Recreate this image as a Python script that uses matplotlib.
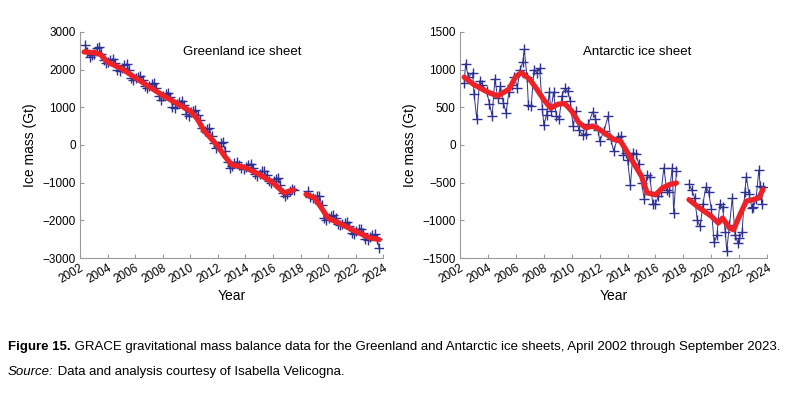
import numpy as np
import matplotlib
matplotlib.use("Agg")
import matplotlib.pyplot as plt

nan = np.nan

# sampling months used for the Greenland record (every second month)
gis_months = [1, 3, 5, 7, 9, 11]
gis_years = list(range(2002, 2024))
gis_rows = [
    [nan, nan, 2650, 2480, 2330, 2380],
    [2420, 2560, 2600, 2420, 2250, 2180],
    [2190, 2250, 2290, 2180, 2000, 1960],
    [2040, 2120, 2150, 2000, 1780, 1720],
    [1790, 1810, 1830, 1720, 1560, 1500],
    [1560, 1620, 1650, 1500, 1300, 1200],
    [1300, 1360, 1390, 1260, 1020, 970],
    [1080, 1150, 1180, 1050, 820, 780],
    [870, 910, 930, 800, 650, 450],
    [380, 420, 440, 250, 60, -80],
    [-30, 40, 80, -150, -450, -620],
    [-560, -480, -440, -520, -620, -640],
    [-580, -530, -500, -600, -780, -830],
    [-760, -700, -700, -800, -960, -1020],
    [-960, -900, -870, -1050, -1280, -1340],
    [-1300, -1220, -1160, -1200, nan, nan],
    [nan, nan, nan, -1230, -1380, -1400],
    [-1420, -1360, -1340, -1600, -1950, -1990],
    [-1930, -1890, -1870, -1950, -2100, -2130],
    [-2100, -2070, -2050, -2150, -2330, -2360],
    [-2280, -2230, -2220, -2330, -2500, -2530],
    [-2450, -2390, -2370, -2500, -2730, nan],
]

gis_trend_t = [2002.3, 2003.0, 2003.5, 2004.0, 2005.0, 2006.0, 2007.0, 2008.0,
               2009.0, 2010.0, 2010.5, 2011.0, 2012.0, 2012.5, 2013.0, 2014.0,
               2015.0, 2016.0, 2016.8, 2017.5, nan, 2018.4, 2019.0, 2019.5,
               2020.0, 2021.0, 2022.0, 2023.0, 2023.7]
gis_trend = [2470, 2450, 2400, 2200, 2030, 1790, 1550, 1320,
             1110, 900, 700, 380, -30, -300, -520, -600,
             -780, -1000, -1270, -1190, nan, -1310, -1400, -1660,
             -1940, -2110, -2290, -2460, -2510]

ais_t = [2002.3, 2002.4, 2002.6, 2002.9, 2003.0, 2003.2, 2003.4, 2003.6, 2003.9,
         2004.1, 2004.3, 2004.5, 2004.7, 2004.9, 2005.1, 2005.3, 2005.5, 2005.7,
         2005.9, 2006.1, 2006.3, 2006.5, 2006.6, 2006.8, 2006.9, 2007.1, 2007.3,
         2007.5, 2007.7, 2007.9, 2008.0, 2008.2, 2008.4, 2008.5, 2008.7, 2008.9,
         2009.1, 2009.3, 2009.5, 2009.7, 2009.9, 2010.1, 2010.3, 2010.5, 2010.8,
         2011.0, 2011.2, 2011.5, 2011.7, 2011.9, 2012.0, 2012.3, 2012.6, 2012.8,
         2013.0, 2013.3, 2013.5, 2013.7, 2013.9, 2014.0, 2014.2, 2014.4, 2014.6,
         2014.8, 2015.0, 2015.2, 2015.4, 2015.6, 2015.8, 2016.0, 2016.2, 2016.4,
         2016.6, 2016.8, 2017.0, 2017.2, 2017.3, 2017.5, nan,
         2018.4, 2018.6, 2018.8, 2019.0, 2019.2, 2019.4, 2019.6, 2019.8, 2020.0,
         2020.2, 2020.4, 2020.6, 2020.8, 2021.0, 2021.1, 2021.3, 2021.5, 2021.7,
         2021.9, 2022.0, 2022.2, 2022.4, 2022.5, 2022.7, 2022.9, 2023.0, 2023.2,
         2023.4, 2023.5, 2023.6, 2023.7]
ais_mass = [820, 1080, 900, 960, 680, 350, 850, 800, 720,
            550, 390, 880, 620, 780, 560, 430, 700, 800,
            900, 760, 1000, 1100, 1270, 900, 530, 520, 1000,
            960, 1020, 480, 270, 400, 700, 450, 700, 380,
            350, 650, 750, 720, 580, 250, 450, 200, 130,
            150, 280, 440, 350, 200, 50, 180, 380, 80,
            -80, 100, 120, -130, -100, -200, -530, -100, -120,
            -250, -500, -720, -400, -420, -780, -780, -680, -620,
            -300, -600, -620, -300, -900, -350, nan,
            -520, -600, -700, -1000, -1080, -780, -560, -620, -850,
            -1290, -1200, -780, -820, -1160, -1400, -1060, -700, -1200,
            -1300, -1240, -1150, -620, -420, -650, -830, -820, -720,
            -330, -540, -780, -560]

ais_trend_t = [2002.3, 2003.0, 2004.0, 2004.7, 2005.5, 2006.0, 2006.4, 2007.0,
               2007.5, 2008.0, 2008.5, 2009.0, 2009.5, 2010.0, 2010.5, 2011.0,
               2011.5, 2012.0, 2012.5, 2013.0, 2013.5, 2014.0, 2014.5, 2015.0,
               2015.4, 2016.0, 2016.5, 2017.0, 2017.5, nan, 2018.4, 2019.0,
               2019.5, 2020.0, 2020.5, 2020.8, 2021.3, 2021.6, 2022.0, 2022.5,
               2023.0, 2023.4, 2023.7]
ais_trend = [900, 800, 700, 650, 740, 910, 960, 870,
             740, 600, 490, 540, 550, 450, 300, 230,
             250, 205, 140, 75, 50, -100, -260, -415,
             -635, -660, -570, -525, -505, nan, -725, -815,
             -880, -945, -1035, -970, -1100, -1125, -945, -745,
             -725, -700, -590]

caption_parts = [
    ("Figure 15.", "bold", "normal"),
    (" GRACE gravitational mass balance data for the Greenland and Antarctic "
     "ice sheets, April 2002 through September 2023.", "normal", "normal"),
]
source_parts = [
    ("Source:", "normal", "italic"),
    (" Data and analysis courtesy of Isabella Velicogna.", "normal", "normal"),
]

gis_t = [y + (m - 0.5) / 12 for y in gis_years for m in gis_months]
gis_mass = [v for row in gis_rows for v in row]

BLUE = "#2e3192"
RED = "#ec2227"
GRAY = "#9a9a9a"

plt.rcParams["font.family"] = ["Liberation Sans", "DejaVu Sans"]

fig = plt.figure(figsize=(8, 3.94), dpi=100)
ax1 = fig.add_axes([0.100, 0.345, 0.379, 0.574])
ax2 = fig.add_axes([0.575, 0.345, 0.384, 0.574])


def style_axis(ax, ylim, yticks, title, tx):
    ax.set_xlim(2002, 2024)
    ax.set_ylim(*ylim)
    ax.set_xticks(range(2002, 2025, 2))
    ax.set_yticks(yticks)
    ax.set_yticklabels([str(v).replace("-", "\u2212") for v in yticks])
    for s in ["top", "right"]:
        ax.spines[s].set_visible(False)
    for s in ["left", "bottom"]:
        ax.spines[s].set_color(GRAY)
        ax.spines[s].set_linewidth(0.8)
    ax.tick_params(direction="in", length=3, color=GRAY, labelsize=8.5,
                   pad=3)
    for lab in ax.get_xticklabels():
        lab.set_rotation(30)
        lab.set_ha("right")
        lab.set_rotation_mode("anchor")
    ax.set_xlabel("Year", fontsize=10, labelpad=2)
    ax.set_ylabel("Ice mass (Gt)", fontsize=10, labelpad=4)
    ax.text(tx, 0.91, title, transform=ax.transAxes, fontsize=9.5,
            ha="center", va="center")


ax1.plot(gis_t, gis_mass, color=BLUE, lw=0.7, marker="+", ms=7, mew=1.0)
ax1.plot(gis_trend_t, gis_trend, color=RED, lw=3.8, solid_capstyle="round",
         solid_joinstyle="round")
style_axis(ax1, (-3000, 3000), list(range(-3000, 3001, 1000)),
           "Greenland ice sheet", 0.535)

ax2.plot(ais_t, ais_mass, color=BLUE, lw=0.7, marker="+", ms=7, mew=1.0)
ax2.plot(ais_trend_t, ais_trend, color=RED, lw=3.8, solid_capstyle="round",
         solid_joinstyle="round")
style_axis(ax2, (-1500, 1500), list(range(-1500, 1501, 500)),
           "Antarctic ice sheet", 0.577)

# caption: pieces laid out one after another
renderer = fig.canvas.get_renderer()


def write_line(parts, y, size):
    x = 8
    for txt, weight, style in parts:
        t = fig.text(x / 800, y, txt, fontsize=size, fontweight=weight,
                     style=style, va="center", family="Liberation Sans")
        x += t.get_window_extent(renderer).width


write_line(caption_parts, 1 - 347 / 394, 9.5)
write_line(source_parts, 1 - 372 / 394, 9.5)

fig.savefig("out.png", dpi=100, facecolor="white")
